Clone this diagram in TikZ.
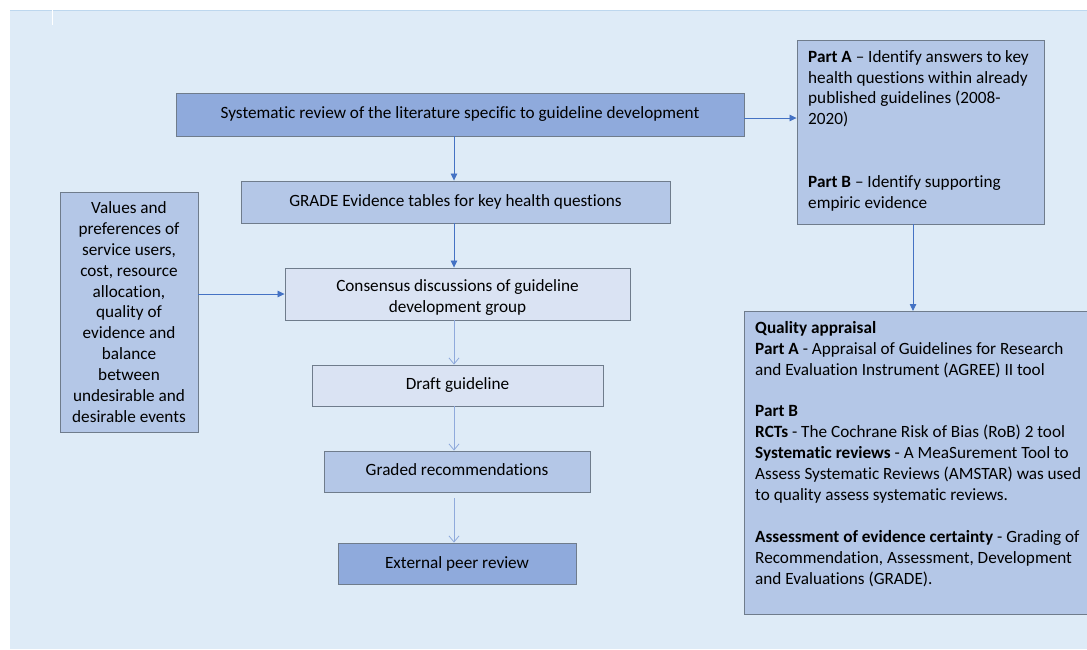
\documentclass[tikz,border=0pt]{standalone}
\usepackage{fontspec}
\setmainfont{Carlito}[Ligatures=NoCommon]
\usetikzlibrary{arrows.meta}
\definecolor{bgc}{HTML}{DEEBF7}
\definecolor{topc}{HTML}{BDD7EE}
\definecolor{darkc}{HTML}{8FAADC}
\definecolor{midc}{HTML}{B4C7E7}
\definecolor{lightc}{HTML}{DAE3F3}
\definecolor{bordc}{HTML}{6F7C8C}
\definecolor{arrc}{HTML}{4472C4}
\definecolor{arrl}{HTML}{8FAADC}
\begin{document}
\begin{tikzpicture}[x=1pt,y=-1pt,
  font=\fontsize{17.2}{20.9}\selectfont,
  box/.style={draw=bordc, line width=0.9pt, inner sep=0pt, align=center},
  txt/.style={anchor=north west, inner sep=0pt, align=left},
  arrF/.style={draw=arrc, line width=0.8pt, -{Triangle[length=7pt,width=6.5pt]}},
  arrO/.style={draw=arrl, line width=0.8pt, -{Straight Barb[length=6pt,width=10pt]}}]
\useasboundingbox (0,0) rectangle (1087,649);
\fill[white] (0,0) rectangle (1087,649);
\fill[bgc] (10,10) rectangle (1087,649);
\draw[topc, line width=1pt] (10,10.5) -- (1087,10.5);
\draw[white, line width=1pt] (52,10) -- (52,25);

% main column
\node[box, fill=darkc, minimum width=568, minimum height=43] (sr) at (460,114.5)
  {\raisebox{3pt}{Systematic review of the literature specific to guideline development}};
\node[box, fill=midc, minimum width=429, minimum height=42] (ge) at (455.5,202)
  {\raisebox{3pt}{GRADE Evidence tables for key health questions}};
\node[box, fill=lightc, minimum width=345, minimum height=52] (cd) at (457.5,294)
  {\rule{0pt}{19pt}Consensus discussions of guideline\\development group};
\node[box, fill=lightc, minimum width=291, minimum height=41] (dg) at (457.5,385.5)
  {\raisebox{3pt}{Draft guideline}};
\node[box, fill=midc, minimum width=266, minimum height=41] (gr) at (457,471.5)
  {\raisebox{3pt}{Graded recommendations}};
\node[box, fill=darkc, minimum width=238, minimum height=41] (ep) at (457,563.5)
  {\raisebox{1pt}{External peer review}};

% left box
\node[box, fill=midc, minimum width=138, minimum height=240] (vp) at (129,312)
  {Values and\\preferences of\\service users,\\cost, resource\\allocation,\\quality of\\evidence and\\balance\\between\\undesirable and\\desirable events};

% right top box
\node[box, fill=midc, minimum width=247, minimum height=184] (pa) at (920.5,132) {};
\node[txt] (patxt) at (808,50)
  {\textbf{Part A} – Identify answers to key\\
   health questions within already\\
   published guidelines (2008-\\
   2020)\\[41.8pt]
   \textbf{Part B} – Identify supporting\\
   empiric evidence};

% quality box
\node[box, fill=midc, minimum width=360, minimum height=303, anchor=north west] (qa) at (744,311) {};
\node[txt] (qatxt) at (755,321)
  {\textbf{Quality appraisal}\\
   \textbf{Part A} - Appraisal of Guidelines for Research\\
   and Evaluation Instrument (AGREE) II tool\\[20.9pt]
   \textbf{Part B}\\
   \textbf{RCTs} - The Cochrane Risk of Bias (RoB) 2 tool\\
   \textbf{Systematic reviews} - A MeaSurement Tool to\\
   Assess Systematic Reviews (AMSTAR) was used\\
   to quality assess systematic reviews.\\[20.9pt]
   \textbf{Assessment of evidence certainty} - Grading of\\
   Recommendation, Assessment, Development\\
   and Evaluations (GRADE).};

% connectors
\coordinate (cx) at (454,0);
\draw[arrF] (sr.south -| cx) -- (ge.north -| cx);
\draw[arrF] (ge.south -| cx) -- (cd.north -| cx);
\draw[arrO] (cd.south -| cx) -- (dg.north -| cx);
\draw[arrO] (dg.south -| cx) -- (gr.north -| cx);
\draw[arrO] ([yshift=-6pt]gr.south -| cx) -- (ep.north -| cx);
\draw[arrF] (cd.west -| vp.east) -- (cd.west);
\draw[arrF] ([yshift=-3.5pt]sr.east) -- ([yshift=-3.5pt]sr.east -| pa.west);
\coordinate (rx) at (913,0);
\draw[arrF] (pa.south -| rx) -- (qa.north -| rx);
\end{tikzpicture}
\end{document}
